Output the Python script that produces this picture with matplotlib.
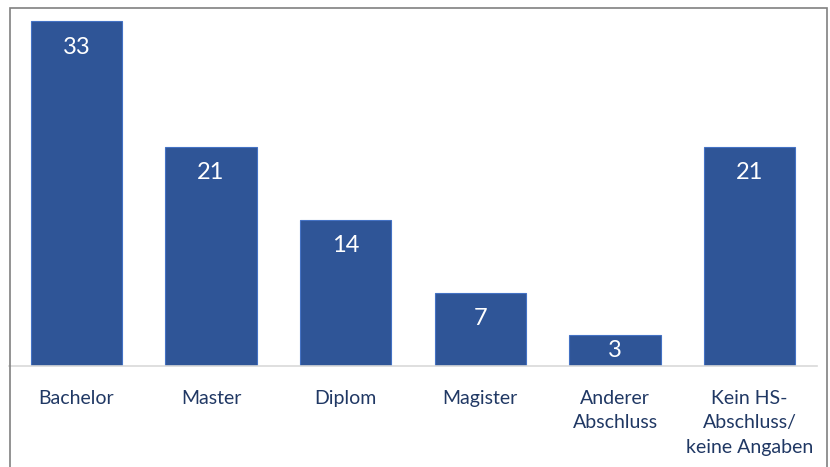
import matplotlib.pyplot as plt
import matplotlib.patches as mpatches

# Abschluss categories and counts
categories = ["Bachelor", "Master", "Diplom", "Magister",
              "Anderer\nAbschluss", "Kein HS-\nAbschluss/\nkeine Angaben"]
values = [33, 21, 14, 7, 3, 21]

W, H = 830, 467
fig = plt.figure(figsize=(W / 100, H / 100), dpi=100)
plt.rcParams['font.family'] = ['Lato', 'DejaVu Sans']

# axes box in pixel coords: x 9..817, baseline at y=366
left, right, bottom, top = 9, 817, 366, 8
px_per_unit = 10.45
ax = fig.add_axes([left / W, 1 - bottom / H, (right - left) / W, (bottom - top) / H])

x = list(range(len(values)))
bars = ax.bar(x, values, width=0.676, color="#2F5597", edgecolor="#4472C4", linewidth=0.8, zorder=2)
ax.set_xlim(-0.5, len(values) - 0.5)
ax.set_ylim(0, (bottom - top) / px_per_unit)

# labels sit inside the bar end, centred when the bar is too short
for b, v in zip(bars, values):
    ypos = max(v - 26 / px_per_unit, v / 2)
    ax.text(b.get_x() + b.get_width() / 2, ypos, str(v), ha="center", va="center",
            color="white", fontsize=17)

ax.axhline(0, color="#D9D9D9", linewidth=1.2, zorder=3, clip_on=False)
for s in ax.spines.values():
    s.set_visible(False)
ax.set_yticks([])
ax.set_xticks(x)
ax.set_xticklabels(categories, color="#203864", fontsize=14, linespacing=1.55, va="top")
ax.tick_params(axis="x", length=0, pad=17)

# outer frame
fig.patches.append(mpatches.Rectangle((10 / W, -0.2), 817 / W, 1.2 - 8 / H,
                                      transform=fig.transFigure, fill=False,
                                      edgecolor="#808080", linewidth=1.2))

fig.savefig("out.png", dpi=100)
